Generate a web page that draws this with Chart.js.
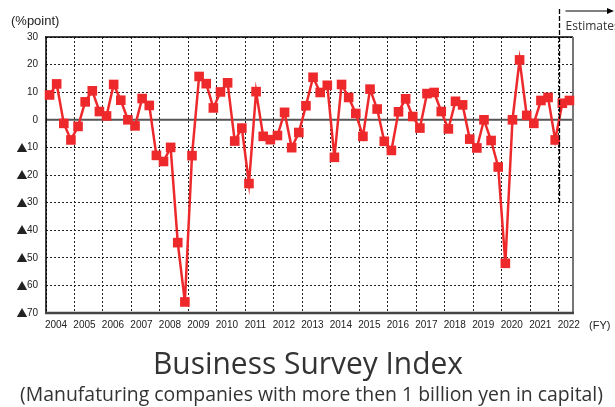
<!DOCTYPE html>
<html>
<head>
<meta charset="utf-8">
<script src="https://cdn.jsdelivr.net/npm/chart.js@4"></script>
<style>
html,body{margin:0;padding:0;background:#fff;}
canvas{display:block;}
</style>
</head>
<body>
<canvas id="c" width="615" height="407"></canvas>
<script>
// ---- data ----
const years = [2004,2005,2006,2007,2008,2009,2010,2011,2012,2013,2014,2015,2016,2017,2018,2019,2020,2021,2022];
// quarterly Business Survey Index values (2004 Q1 ... 2022 Q2); last two are estimates
const values = [
  9, 13, -1.3, -7.3,
  -2.4, 6.5, 10.5, 3,
  1.4, 12.8, 7.1, 0,
  -2.2, 7.7, 5.2, -12.9,
  -15.1, -10, -44.5, -66,
  -13, 15.7, 13.1, 4.3,
  10.1, 13.4, -7.7, -3,
  -23.1, 10.2, -6, -7.2,
  -5.7, 2.7, -10.1, -4.6,
  5.1, 15.4, 9.9, 12.5,
  -13.6, 12.8, 8.1, 2.3,
  -6, 11.1, 3.9, -7.8,
  -11.1, 2.9, 7.6, 1.2,
  -3, 9.5, 9.9, 3,
  -3.3, 6.7, 5.4, -7,
  -10.2, 0, -7.5, -17.1,
  -52, 0, 21.7, 1.6,
  -1.3, 7, 8.1, -7.3,
  6, 7
];
const yTicks = [30,20,10,0,-10,-20,-30,-40,-50,-60,-70];
const estimateStartIndex = 72;
const negativeMark = '\u25B2';
const unitLabel = '(%point)';
const fyLabel = '(FY)';
const estimatesLabel = 'Estimates';
const titleText = 'Business Survey Index';
const subtitleText = '(Manufaturing companies with more then 1 billion yen in capital)';

const RED = 'rgb(237,41,43)';
const TICKFONT = "'Liberation Sans', Arial, sans-serif";
const TITLEFONT = "'Open Sans', 'Noto Sans', sans-serif";
const MARKFONT = "'Noto Sans CJK JP', sans-serif";

const points = values.map((v, i) => ({x: i, y: v}));

function drawFit(ctx, text, cx, baseline, size, targetW, family, color) {
  ctx.save();
  ctx.font = size + 'px ' + family;
  const w = ctx.measureText(text).width;
  const s = targetW / w;
  ctx.translate(cx, baseline);
  ctx.scale(s, 1);
  ctx.textAlign = 'center';
  ctx.textBaseline = 'alphabetic';
  ctx.fillStyle = color;
  ctx.fillText(text, 0, 0);
  ctx.restore();
}

const extras = {
  id: 'extras',
  beforeDatasetsDraw(chart) {
    const {ctx, chartArea: a, scales: {x, y}} = chart;
    ctx.save();
    // zero line
    const y0 = y.getPixelForValue(0);
    ctx.strokeStyle = '#555';
    ctx.lineWidth = 2;
    ctx.beginPath(); ctx.moveTo(a.left, y0); ctx.lineTo(a.right, y0); ctx.stroke();
    // frame
    ctx.lineWidth = 1.5; ctx.strokeStyle = '#000';
    ctx.beginPath(); ctx.moveTo(a.left - 1, a.top); ctx.lineTo(a.right, a.top); ctx.stroke();
    ctx.beginPath(); ctx.moveTo(a.left, a.top); ctx.lineTo(a.left, a.bottom); ctx.stroke();
    ctx.lineWidth = 2; ctx.strokeStyle = '#777';
    ctx.beginPath(); ctx.moveTo(a.right, a.top); ctx.lineTo(a.right, a.bottom); ctx.stroke();
    ctx.lineWidth = 2.5; ctx.strokeStyle = '#444';
    ctx.beginPath(); ctx.moveTo(a.left - 1, a.bottom); ctx.lineTo(a.right + 1, a.bottom); ctx.stroke();
    ctx.restore();
  },
  afterDatasetsDraw(chart) {
    const {ctx, chartArea: a, scales: {x, y}} = chart;
    ctx.save();
    // negative markers before y tick labels
    ctx.font = '10px ' + TICKFONT;
    const labelRight = a.left - 8;
    yTicks.forEach(v => {
      if (v >= 0) return;
      const w = ctx.measureText(String(Math.abs(v))).width;
      const py = y.getPixelForValue(v);
      ctx.save();
      ctx.font = '11px ' + MARKFONT;
      ctx.fillStyle = '#222';
      ctx.textAlign = 'right';
      ctx.textBaseline = 'middle';
      ctx.fillText(negativeMark, labelRight - w + 0.5, py);
      ctx.restore();
    });
    // estimates divider
    const xe = Math.round(x.getPixelForValue(estimateStartIndex - 0.5)) + 0.5;
    ctx.setLineDash([5, 2]);
    ctx.strokeStyle = '#000';
    ctx.lineWidth = 1.3;
    ctx.beginPath(); ctx.moveTo(xe, 9); ctx.lineTo(xe, y.getPixelForValue(-31)); ctx.stroke();
    ctx.setLineDash([]);
    // arrow
    ctx.lineWidth = 1.2;
    ctx.beginPath(); ctx.moveTo(xe + 6, 11); ctx.lineTo(609, 11); ctx.stroke();
    ctx.fillStyle = '#000';
    ctx.beginPath(); ctx.moveTo(614, 11); ctx.lineTo(607, 8); ctx.lineTo(607, 14); ctx.closePath(); ctx.fill();
    // texts
    ctx.fillStyle = '#333';
    ctx.font = "12px " + TITLEFONT;
    ctx.textAlign = 'left'; ctx.textBaseline = 'alphabetic';
    ctx.fillText(estimatesLabel, xe + 6, 29.5);
    ctx.fillStyle = '#222';
    ctx.font = "13px " + TICKFONT;
    ctx.textBaseline = 'middle';
    ctx.fillText(unitLabel, 11, 21);
    ctx.font = "11px " + TICKFONT;
    ctx.fillText(fyLabel, 589, 326);
    drawFit(ctx, titleText, 308, 374, 31, 310, TITLEFONT, '#333');
    drawFit(ctx, subtitleText, 311.5, 401, 20, 583, TITLEFONT, '#333');
    ctx.restore();
  }
};

new Chart(document.getElementById('c'), {
  type: 'line',
  data: {
    datasets: [{
      data: points,
      borderColor: RED,
      backgroundColor: RED,
      borderWidth: 2.5,
      tension: 0,
      pointStyle: 'rect',
      pointRadius: 6.8,
      pointBorderWidth: 0,
      pointBackgroundColor: RED,
      pointBorderColor: RED,
      clip: false
    }]
  },
  options: {
    responsive: false,
    animation: false,
    devicePixelRatio: 1,
    layout: {padding: {left: 0, top: 37, right: 42, bottom: 74}},
    plugins: {legend: {display: false}, tooltip: {enabled: false}, title: {display: false}},
    scales: {
      x: {
        type: 'linear',
        min: -0.5,
        max: 73.5,
        afterBuildTicks: s => { s.ticks = years.map((yv, k) => ({value: -0.5 + 4 * k})); },
        afterFit: s => { s.height = 20; },
        ticks: {
          callback: v => String(years[Math.round((v + 0.5) / 4)]),
          labelOffset: 10,
          padding: 6,
          maxRotation: 0,
          autoSkip: false,
          color: '#222',
          font: {family: TICKFONT, size: 10}
        },
        grid: {color: '#222', lineWidth: 1, drawTicks: false},
        border: {display: false, dash: [2, 2]}
      },
      y: {
        min: -70,
        max: 30,
        afterBuildTicks: s => { s.ticks = yTicks.map(v => ({value: v})); },
        afterFit: s => { s.width = 46; },
        ticks: {
          callback: v => String(Math.abs(v)),
          padding: 8,
          color: '#222',
          font: {family: TICKFONT, size: 10}
        },
        grid: {color: '#222', lineWidth: 1, drawTicks: false},
        border: {display: false, dash: [2, 2]}
      }
    }
  },
  plugins: [extras]
});
</script>
</body>
</html>
